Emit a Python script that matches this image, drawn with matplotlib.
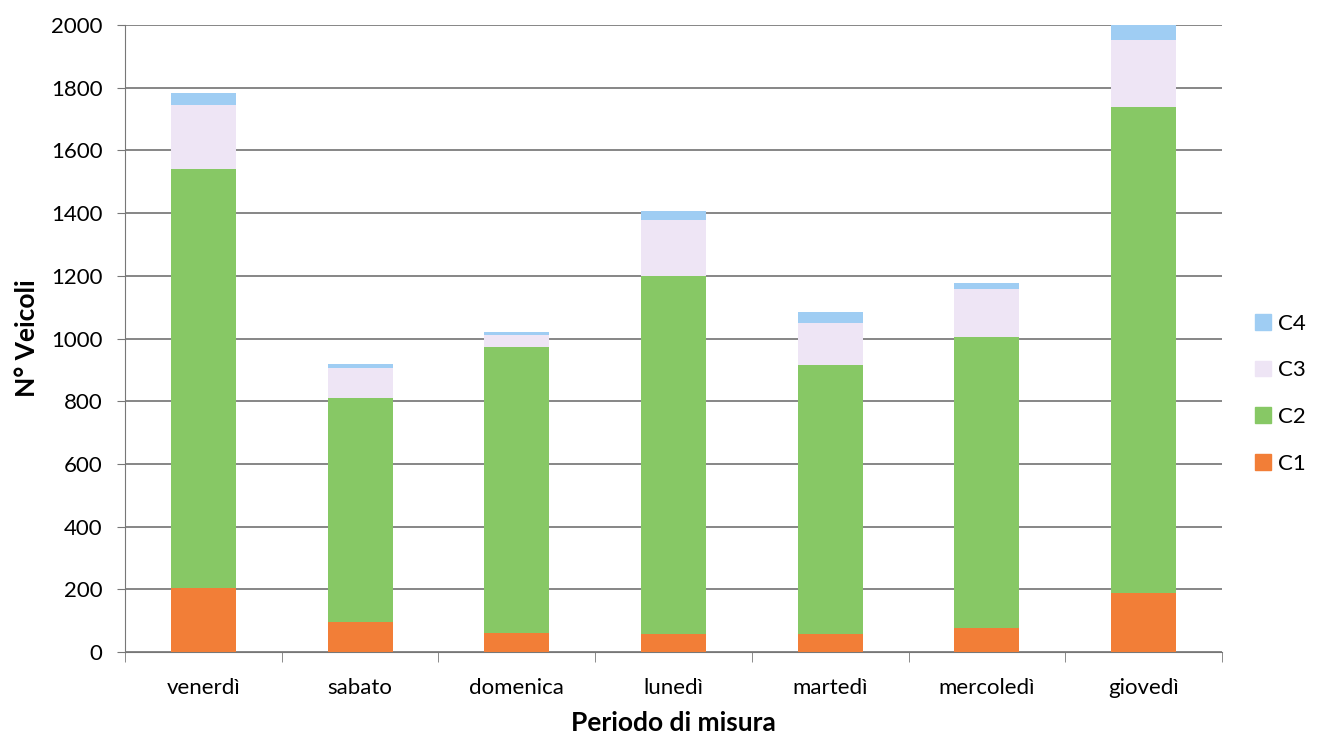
import matplotlib
matplotlib.use("Agg")
import matplotlib.pyplot as plt
from matplotlib.patches import Patch
import numpy as np

plt.rcParams['font.family'] = ['Lato', 'DejaVu Sans']

categories = ["venerdì", "sabato", "domenica", "lunedì", "martedì", "mercoledì", "giovedì"]
c1 = [204, 96, 61, 57, 58, 77, 189]
c2 = [1338, 714, 912, 1141, 858, 928, 1548]
c3 = [203, 96, 38, 180, 134, 153, 215]
c4 = [38, 13, 9, 29, 36, 19, 48]
series_names = ["C1", "C2", "C3", "C4"]
colors = ["#F27E37", "#87C865", "#EEE5F5", "#9FCDF3"]
yticks = list(range(0, 2001, 200))

fig = plt.figure(figsize=(13.18, 7.40), dpi=100)
ax = fig.add_axes([0.0948, 0.1189, 0.8324, 0.8473])

x = np.arange(len(categories))
bottom = np.zeros(len(categories))
for vals, col, name in zip([c1, c2, c3, c4], colors, series_names):
    ax.bar(x, vals, bottom=bottom, width=0.415, color=col, label=name, zorder=3)
    bottom += np.array(vals)

ax.set_xlim(-0.5, len(categories) - 0.5)
ax.set_ylim(0, 2000)
ax.set_yticks(yticks)
ax.set_yticklabels([str(v) for v in yticks], fontsize=16)
ax.set_xticks(x)
ax.set_xticklabels(categories, fontsize=16)
ax.tick_params(axis='x', length=0, pad=19)
ax.tick_params(axis='y', length=6, color="#777777", direction='out', pad=10)
ax.set_xticks(np.arange(-0.5, len(categories)), minor=True)
ax.tick_params(axis='x', which='minor', length=7, color="#777777", direction='out')

ax.grid(axis='y', color="#666666", linewidth=1.1, zorder=0)
for s in ["top", "right"]:
    ax.spines[s].set_visible(False)
ax.spines["left"].set_color("#777777")
ax.spines["bottom"].set_color("#777777")

ax.set_ylabel("N° Veicoli", fontsize=19, fontweight='bold', labelpad=9)
ax.set_xlabel("Periodo di misura", fontsize=19, fontweight='bold', labelpad=9)

handles = [Patch(color=colors[i], label=series_names[i]) for i in [3, 2, 1, 0]]
fig.legend(handles=handles, loc='center left', bbox_to_anchor=(0.937, 0.468),
           frameon=False, fontsize=16, handlelength=0.7, handleheight=0.7,
           labelspacing=1.2, handletextpad=0.35)

fig.savefig("out.png", dpi=100)
